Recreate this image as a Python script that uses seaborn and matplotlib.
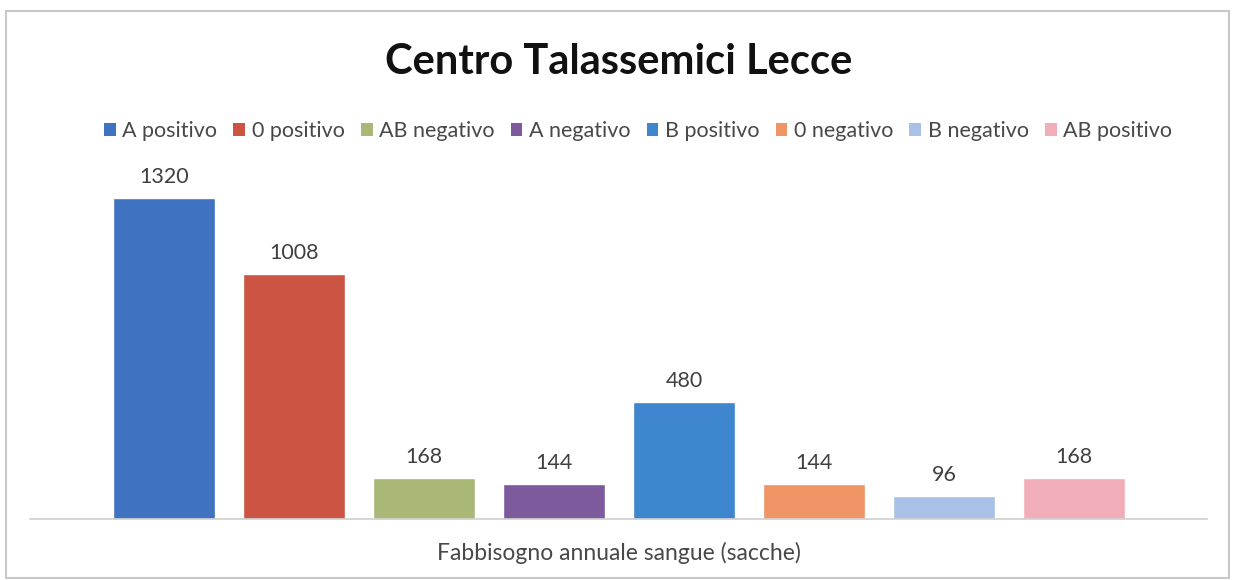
import pandas as pd
import matplotlib.pyplot as plt
import seaborn as sns
from matplotlib.patches import Patch, Rectangle

# data
gruppi = ['A positivo', '0 positivo', 'AB negativo', 'A negativo',
          'B positivo', '0 negativo', 'B negativo', 'AB positivo']
sacche = [1320, 1008, 168, 144, 480, 144, 96, 168]
colori = ['#3F72C0', '#CC5443', '#A9B877', '#7D5A9C',
          '#3E86CE', '#EE9465', '#A9C1E6', '#F2AEB8']

df = pd.DataFrame({'Gruppo': gruppi, 'Sacche': sacche})

sns.set_theme(style="white")
plt.rcParams['font.family'] = ['Lato', 'DejaVu Sans']

W, H = 1233, 580
fig = plt.figure(figsize=(W / 100, H / 100), dpi=100)
ax = fig.add_axes([30 / W, 61 / H, 1177 / W, 340.5 / H])

sns.barplot(data=df, x='Gruppo', y='Sacche', hue='Gruppo', palette=colori,
            width=0.785, legend=False, ax=ax, saturation=1)

for c in ax.containers:
    ax.bar_label(c, padding=8, fontsize=15.5, color='#404040')

ax.set_ylim(0, 1400)
ax.set_xlim(-1.03, 8.02)
ax.set_xticks([])
ax.set_yticks([])
ax.set_xlabel('')
ax.set_ylabel('')
for s in ['top', 'left', 'right']:
    ax.spines[s].set_visible(False)
ax.spines['bottom'].set_color('#D0D0D0')
ax.spines['bottom'].set_linewidth(1.2)

fig.text(619 / W, 1 - 62 / H, 'Centro Talassemici Lecce', ha='center', va='center',
         fontsize=30, fontweight='bold', color='#111111')
fig.text(619 / W, 1 - 553 / H, 'Fabbisogno annuale sangue (sacche)', ha='center',
         va='center', fontsize=16.5, color='#484848')

handles = [Patch(facecolor=c, edgecolor='none', label=g) for g, c in zip(gruppi, colori)]
fig.legend(handles=handles, loc='center', bbox_to_anchor=(638 / W, 1 - 131 / H), ncol=8,
           frameon=False, fontsize=15.5, handlelength=0.55, handleheight=0.55,
           handletextpad=0.3, columnspacing=0.75, labelcolor='#484848')

# chart border
fig.patches.append(Rectangle((6 / W, 2 / H), 1223 / W, 567 / H, transform=fig.transFigure,
                             fill=False, edgecolor='#C8C8C8', linewidth=1.5))

plt.savefig('out.png', dpi=100)
